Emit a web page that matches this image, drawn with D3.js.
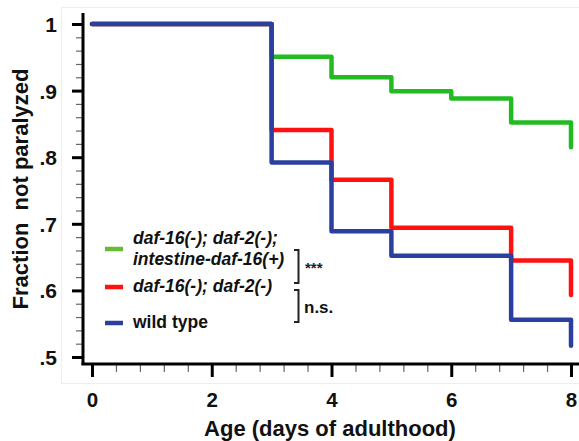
<!DOCTYPE html>
<html>
<head>
<meta charset="utf-8">
<script src="https://cdn.jsdelivr.net/npm/d3@7"></script>
<style>
  html, body { margin: 0; padding: 0; background: #fff; }
  svg { display: block; font-family: "Liberation Sans", Arial, Helvetica, sans-serif; }
</style>
</head>
<body>
<svg id="chart" width="579" height="441"></svg>
<script>
// ---- data ----
const greenDays = [0, 3, 4, 5, 6, 7, 8];
const greenVals = [1, 0.951, 0.920, 0.899, 0.888, 0.852, 0.815];
const redDays   = [0, 3, 4, 5, 7, 8];
const redVals   = [1, 0.841, 0.766, 0.694, 0.645, 0.593];
const blueDays  = [0, 3, 4, 5, 7, 8];
const blueVals  = [1, 0.792, 0.689, 0.652, 0.556, 0.517];
const seriesNames = ["daf-16(-); daf-2(-);|intestine-daf-16(+)", "daf-16(-); daf-2(-)", "wild type"];
const xTicks = [0, 2, 4, 6, 8];
const yTicks = [0.5, 0.6, 0.7, 0.8, 0.9, 1];
const xTitle = "Age (days of adulthood)";
const yTitle = "Fraction  not paralyzed";
const sigLabels = ["***", "n.s."];

// ---- layout ----
const svg = d3.select("#chart");
const x = d3.scaleLinear().domain([0, 8]).range([92, 571]);
const y = d3.scaleLinear().domain([0.5, 1]).range([357, 24]);
const axisX = 83, axisY = 364;

// faint frame
svg.append("rect").attr("x", 61.5).attr("y", 7.5).attr("width", 600).attr("height", 376)
  .attr("fill", "none").attr("stroke", "#eeeeee").attr("stroke-width", 1);

// minor ticks
const yMinor = d3.range(0.5, 1.0001, 0.02).filter(v => Math.abs(v * 10 - Math.round(v * 10)) > 1e-6);
const gyMinor = svg.append("g").attr("transform", `translate(${axisX},0)`)
  .call(d3.axisLeft(y).tickValues(yMinor).tickSize(7).tickFormat(""));
gyMinor.select(".domain").remove();
gyMinor.selectAll("line").attr("stroke", "#666").attr("stroke-width", 1.2);

const xMinor = d3.range(0, 8.0001, 0.4).filter(v => Math.abs(v / 2 - Math.round(v / 2)) > 1e-6);
const gxMinor = svg.append("g").attr("transform", `translate(0,${axisY})`)
  .call(d3.axisBottom(x).tickValues(xMinor).tickSize(8).tickFormat(""));
gxMinor.select(".domain").remove();
gxMinor.selectAll("line").attr("stroke", "#666").attr("stroke-width", 1.2);

// major y axis
const gy = svg.append("g").attr("transform", `translate(${axisX},0)`)
  .call(d3.axisLeft(y).tickValues(yTicks).tickSize(11).tickPadding(14)
    .tickFormat(d => d === 1 ? "1" : d3.format(".1f")(d).replace(/^0/, "")));
gy.select(".domain").remove();
gy.selectAll("line").attr("stroke", "#000").attr("stroke-width", 3);
gy.selectAll("text").attr("font-size", 21).attr("font-weight", "bold").attr("fill", "#111")
  .attr("x", -26).attr("dy", "0.36em");

// major x axis
const gx = svg.append("g").attr("transform", `translate(0,${axisY})`)
  .call(d3.axisBottom(x).tickValues(xTicks).tickSize(13).tickFormat(d3.format("d")));
gx.select(".domain").remove();
gx.selectAll("line").attr("stroke", "#000").attr("stroke-width", 3);
gx.selectAll("text").attr("font-size", 20.5).attr("font-weight", "bold").attr("fill", "#111")
  .attr("y", 43).attr("dy", 0);

// axis lines
svg.append("line").attr("x1", axisX).attr("x2", axisX).attr("y1", 13).attr("y2", axisY + 1)
  .attr("stroke", "#000").attr("stroke-width", 3);
svg.append("line").attr("x1", axisX - 1.5).attr("x2", 579).attr("y1", axisY).attr("y2", axisY)
  .attr("stroke", "#000").attr("stroke-width", 3);

// titles
svg.append("text").attr("x", 330).attr("y", 436).attr("text-anchor", "middle")
  .attr("font-size", 22).attr("font-weight", "bold").attr("fill", "#111").text(xTitle);
svg.append("text").attr("transform", "translate(28,189) rotate(-90)")
  .attr("text-anchor", "middle").attr("font-size", 22).attr("font-weight", "bold")
  .attr("fill", "#111").style("white-space", "pre").text(yTitle);

// curves
const line = d3.line().x(d => x(d[0])).y(d => y(d[1])).curve(d3.curveStepAfter);
const series = [
  { days: greenDays, vals: greenVals, color: "#22bb22" },
  { days: redDays, vals: redVals, color: "#ff1111" },
  { days: blueDays, vals: blueVals, color: "#2b3f9f" }
];
series.forEach(s => {
  svg.append("path").datum(s.days.map((d, i) => [d, s.vals[i]]))
    .attr("d", line).attr("fill", "none").attr("stroke", s.color)
    .attr("stroke-width", 4.5).attr("stroke-linejoin", "round").attr("stroke-linecap", "round");
});

// legend
const legendColors = ["#66bb33", "#ff1111", "#2b3f9f"];
const legendLineY = [249, 287, 323];
legendColors.forEach((c, i) => {
  svg.append("line").attr("x1", 105).attr("x2", 123).attr("y1", legendLineY[i]).attr("y2", legendLineY[i])
    .attr("stroke", c).attr("stroke-width", 4.5);
});
const legendRows = [
  { t: seriesNames[0].split("|")[0], y: 244, it: true },
  { t: seriesNames[0].split("|")[1], y: 265, it: true },
  { t: seriesNames[1], y: 292, it: true },
  { t: seriesNames[2], y: 328, it: false }
];
legendRows.forEach(r => {
  svg.append("text").attr("x", 133).attr("y", r.y).attr("font-size", 17.5).attr("font-weight", "bold")
    .attr("font-style", r.it ? "italic" : "normal").attr("fill", "#111").text(r.t);
});

// significance brackets
const brackets = [[250, 283], [290, 322]];
brackets.forEach(([a, b]) => {
  svg.append("path").attr("d", `M294,${a}H298.5V${b}H294`).attr("fill", "none")
    .attr("stroke", "#222").attr("stroke-width", 2);
});
svg.append("text").attr("x", 305).attr("y", 273).attr("font-size", 15).attr("font-weight", "bold")
  .attr("fill", "#222").text(sigLabels[0]);
svg.append("text").attr("x", 304).attr("y", 313).attr("font-size", 17).attr("font-weight", "bold")
  .attr("fill", "#111").text(sigLabels[1]);
</script>
</body>
</html>
